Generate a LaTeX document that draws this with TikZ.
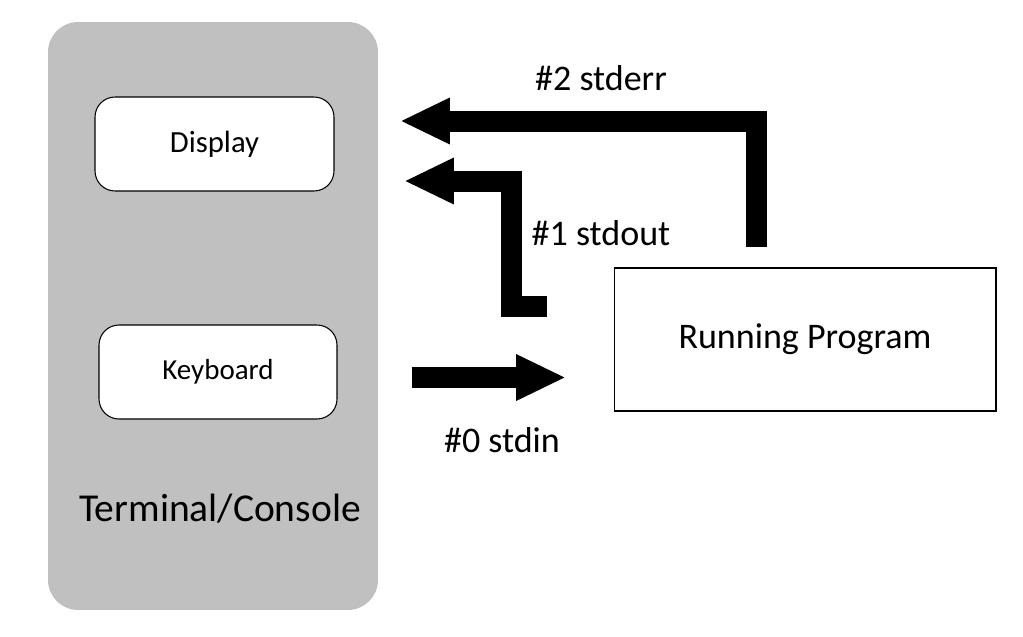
\documentclass[tikz,border=0pt]{standalone}
\usepackage{fontspec}
\setmainfont{Carlito}
\usetikzlibrary{arrows.meta}

\begin{document}
\begin{tikzpicture}[x=0.02cm, y=-0.02cm]

% Colori
\definecolor{termGray}{HTML}{C0C0C0}

% Stili
\tikzset{
  devbox/.style={draw=black, fill=white, rounded corners=0.4cm, line width=0.6pt,
    minimum width=4.78cm, minimum height=1.88cm, font=\fontsize{16.5}{18}\selectfont},
  flow/.style={line width=0.42cm, line join=miter, -{Triangle[length=1cm, width=0.86cm]}},
  flowlab/.style={font=\fontsize{20.5}{22}\selectfont}
}

\useasboundingbox (0,0) rectangle (1023,636);

% Terminale
\node[fill=termGray, rounded corners=0.6cm, minimum width=6.6cm, minimum height=11.76cm] (term) at (213,316) {};
\node[devbox, font=\fontsize{17.5}{19}\selectfont] (display) at (214.5,144) {Display};
\node[devbox, minimum width=4.76cm] (keyboard) at (218,372) {Keyboard};
\node[font=\fontsize{22.5}{25}\selectfont] (termlab) at (220,509) {Terminal/Console};

% Programma
\node[draw=black, line width=0.6pt, minimum width=7.64cm, minimum height=2.86cm,
  font=\fontsize{20.5}{22}\selectfont] (prog) at (805,339.5) {Running Program};

% Punti dei flussi
\coordinate (errStart) at (756,247);
\coordinate (errBend) at (756,121);
\coordinate (errEnd) at (400,121);
\coordinate (outStart) at (547,306.5);
\coordinate (outFoot) at (511,306.5);
\coordinate (outBend) at (511,181);
\coordinate (outEnd) at (404,181);
\coordinate (inStart) at (412,377.5);
\coordinate (inEnd) at (566,377.5);

% Flussi
\draw[flow] (errStart) -- (errBend) -- (errEnd);
\draw[flow] (outStart) -- (outFoot) -- (outBend) -- (outEnd);
\draw[flow] (inStart) -- (inEnd);

% Etichette
\node[flowlab] (errlab) at (601,78) {\#2 stderr};
\node[flowlab] (outlab) at (601,233) {\#1 stdout};
\node[flowlab] (inlab) at (502,440) {\#0 stdin};

\end{tikzpicture}
\end{document}
